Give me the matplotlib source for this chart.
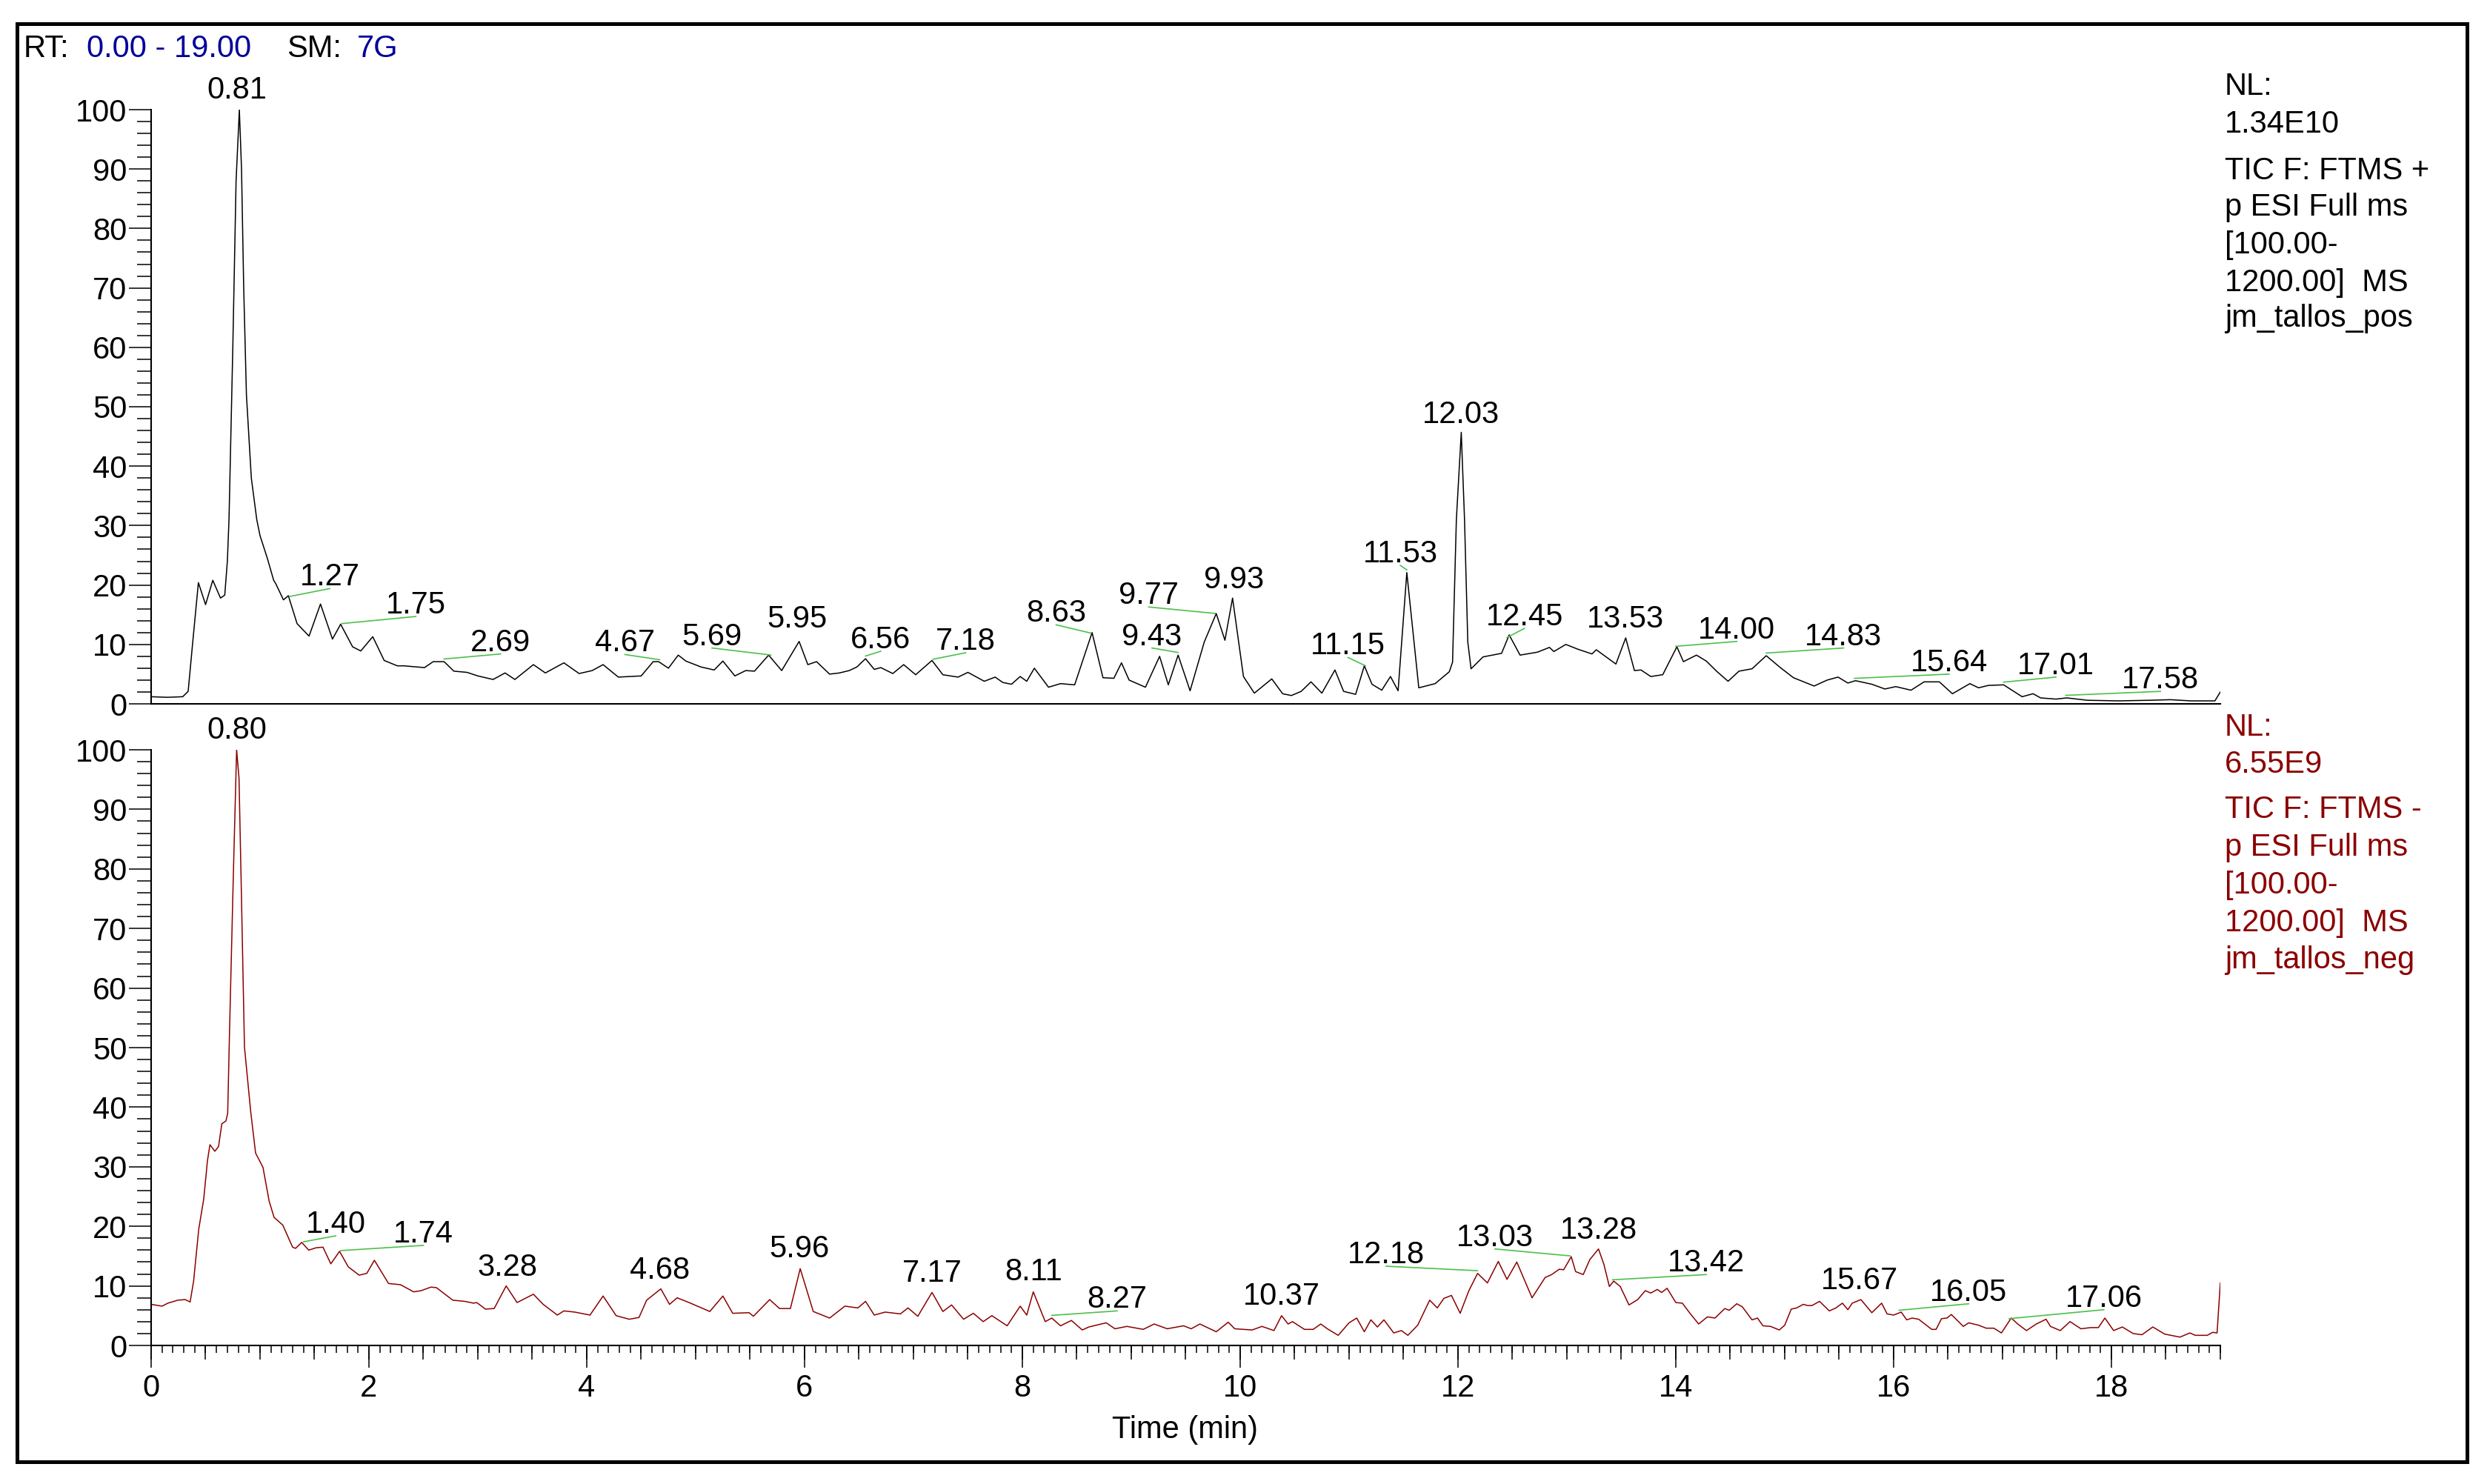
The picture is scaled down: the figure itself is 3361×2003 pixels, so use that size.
import matplotlib.pyplot as plt
import numpy as np
from matplotlib.patches import Rectangle

plt.rcParams['font.family'] = ['Liberation Sans', 'DejaVu Sans']

W, H = 3362, 2003

# --------------------------
# Data: TIC traces (relative abundance, %)
# --------------------------
pos_time = [0.00, 0.15, 0.29, 0.34, 0.38, 0.434, 0.50, 0.566, 0.637, 0.676, 0.70, 0.715, 0.75, 0.78,
            0.81, 0.83, 0.85, 0.875, 0.92, 0.97, 1.00, 1.067, 1.125, 1.145, 1.215, 1.26, 1.34, 1.45,
            1.555, 1.665, 1.74, 1.85, 1.925, 2.035, 2.14, 2.26, 2.32, 2.51, 2.59, 2.69, 2.78, 2.90,
            3.00, 3.14, 3.25, 3.34, 3.51, 3.62, 3.79, 3.93, 4.05, 4.15, 4.29, 4.50, 4.61, 4.66, 4.75,
            4.84, 4.91, 5.05, 5.17, 5.25, 5.36, 5.46, 5.54, 5.67, 5.79, 5.95, 6.03, 6.11, 6.23, 6.32,
            6.41, 6.48, 6.56, 6.64, 6.70, 6.81, 6.91, 7.02, 7.17, 7.27, 7.41, 7.50, 7.65, 7.75, 7.82,
            7.90, 7.98, 8.04, 8.11, 8.24, 8.35, 8.48, 8.64, 8.74, 8.84, 8.91, 8.98, 9.13, 9.26, 9.34,
            9.43, 9.54, 9.67, 9.78, 9.86, 9.93, 10.03, 10.13, 10.29, 10.39, 10.47, 10.56, 10.65, 10.75,
            10.87, 10.95, 11.06, 11.14, 11.21, 11.30, 11.38, 11.45, 11.53, 11.64, 11.79, 11.92, 11.95,
            11.985, 12.03, 12.06, 12.09, 12.12, 12.23, 12.40, 12.47, 12.57, 12.73, 12.84, 12.88, 12.99,
            13.10, 13.23, 13.27, 13.36, 13.45, 13.54, 13.62, 13.68, 13.77, 13.88, 14.01, 14.07, 14.19,
            14.28, 14.38, 14.48, 14.58, 14.70, 14.83, 14.96, 15.08, 15.27, 15.39, 15.49, 15.58, 15.65,
            15.80, 15.92, 16.02, 16.16, 16.28, 16.42, 16.54, 16.70, 16.78, 16.87, 17.01, 17.18, 17.28,
            17.35, 17.49, 17.59, 17.78, 18.06, 18.35, 18.54, 18.73, 18.95, 19.00]
pos_int = [1.2, 1.1, 1.2, 2.1, 10.0, 20.4, 16.7, 20.8, 17.8, 18.3, 24.0, 31.0, 60.0, 88.0,
           100.0, 90.0, 70.0, 52.0, 38.0, 31.0, 28.3, 24.5, 20.8, 20.2, 17.5, 18.2, 13.5, 11.4,
           16.8, 10.9, 13.4, 9.6, 8.9, 11.3, 7.3, 6.4, 6.4, 6.1, 7.1, 7.1, 5.5, 5.3,
           4.7, 4.1, 5.2, 4.1, 6.6, 5.2, 6.9, 5.1, 5.6, 6.6, 4.5, 4.7, 7.1, 7.1, 6.0,
           8.2, 7.2, 6.2, 5.7, 7.2, 4.7, 5.6, 5.5, 8.2, 5.6, 10.5, 6.6, 7.1, 5.0, 5.2,
           5.6, 6.2, 7.6, 5.8, 6.1, 5.1, 6.6, 4.9, 7.3, 4.9, 4.5, 5.3, 3.8, 4.5, 3.6,
           3.3, 4.6, 3.8, 6.0, 2.8, 3.4, 3.2, 12.0, 4.4, 4.3, 6.9, 4.0, 2.8, 8.0, 3.2,
           8.2, 2.2, 10.4, 15.2, 10.7, 17.8, 4.6, 1.8, 4.2, 1.7, 1.4, 2.1, 3.7, 1.8,
           5.7, 2.1, 1.6, 6.4, 3.3, 2.3, 4.6, 2.2, 22.1, 2.7, 3.4, 5.4, 7.0,
           31.0, 45.7, 31.0, 10.4, 5.9, 7.9, 8.5, 11.6, 8.2, 8.7, 9.5, 8.8, 10.0,
           9.2, 8.4, 9.1, 7.9, 6.7, 11.1, 5.6, 5.7, 4.6, 4.9, 9.6, 7.1, 8.2,
           7.2, 5.4, 3.8, 5.5, 5.9, 8.1, 6.1, 4.4, 3.0, 4.0, 4.5, 3.5, 3.9,
           3.3, 2.5, 2.9, 2.3, 3.7, 3.7, 1.7, 3.4, 2.7, 3.1, 3.2, 1.2, 1.7,
           1.0, 0.8, 1.0, 0.6, 0.5, 0.6, 0.7, 0.5, 0.5, 2.0]

neg_time = [0.00, 0.10, 0.154, 0.245, 0.313, 0.358, 0.39, 0.437, 0.483, 0.517, 0.54, 0.585, 0.619,
            0.649, 0.687, 0.703, 0.72, 0.755, 0.785, 0.807, 0.826, 0.857, 0.914, 0.959, 1.027, 1.084,
            1.129, 1.209, 1.299, 1.326, 1.383, 1.447, 1.515, 1.578, 1.65, 1.73, 1.81, 1.91, 1.98, 2.05,
            2.18, 2.29, 2.41, 2.48, 2.57, 2.62, 2.77, 2.88, 2.96, 2.99, 3.07, 3.15, 3.26, 3.36, 3.51,
            3.60, 3.73, 3.79, 3.89, 4.03, 4.15, 4.27, 4.39, 4.48, 4.55, 4.68, 4.76, 4.83, 4.94, 5.13,
            5.25, 5.34, 5.49, 5.53, 5.68, 5.77, 5.87, 5.96, 6.08, 6.23, 6.37, 6.49, 6.56, 6.64, 6.74,
            6.88, 6.95, 7.04, 7.17, 7.27, 7.35, 7.46, 7.55, 7.64, 7.72, 7.86, 7.98, 8.04, 8.10, 8.21,
            8.27, 8.35, 8.45, 8.55, 8.61, 8.77, 8.85, 8.96, 9.11, 9.21, 9.33, 9.48, 9.55, 9.63, 9.78,
            9.89, 9.95, 10.11, 10.20, 10.31, 10.38, 10.44, 10.48, 10.59, 10.67, 10.74, 10.80, 10.90,
            11.00, 11.07, 11.14, 11.20, 11.26, 11.32, 11.41, 11.48, 11.54, 11.63, 11.74, 11.81, 11.87,
            11.94, 12.02, 12.10, 12.18, 12.27, 12.37, 12.45, 12.54, 12.68, 12.80, 12.86, 12.93, 12.97,
            13.04, 13.08, 13.15, 13.21, 13.29, 13.34, 13.39, 13.43, 13.49, 13.57, 13.65, 13.72, 13.77,
            13.83, 13.87, 13.92, 14.00, 14.06, 14.13, 14.21, 14.29, 14.36, 14.45, 14.49, 14.56, 14.61,
            14.70, 14.75, 14.80, 14.87, 14.95, 15.00, 15.06, 15.11, 15.17, 15.21, 15.25, 15.32, 15.41,
            15.47, 15.53, 15.58, 15.62, 15.70, 15.80, 15.89, 15.94, 16.00, 16.07, 16.12, 16.17, 16.23,
            16.35, 16.39, 16.44, 16.49, 16.53, 16.64, 16.69, 16.78, 16.85, 16.92, 16.99, 17.08, 17.14,
            17.22, 17.31, 17.40, 17.44, 17.53, 17.62, 17.72, 17.81, 17.88, 17.94, 18.02, 18.10, 18.20,
            18.28, 18.38, 18.49, 18.63, 18.72, 18.77, 18.88, 18.93, 18.97, 19.00]
neg_int = [6.9, 6.6, 7.1, 7.6, 7.7, 7.3, 10.8, 19.5, 24.6, 31.0, 33.7, 32.6, 33.4,
           37.2, 37.7, 39.0, 52.8, 79.1, 100.0, 95.2, 78.4, 50.1, 39.3, 32.3, 29.9, 24.2,
           21.5, 20.2, 16.5, 16.3, 17.3, 16.0, 16.4, 16.5, 13.7, 15.8, 13.2, 11.8, 12.1, 14.3,
           10.4, 10.2, 9.0, 9.2, 9.8, 9.7, 7.6, 7.4, 7.1, 7.2, 6.1, 6.2, 10.0, 7.2, 8.6,
           6.9, 5.1, 5.8, 5.6, 5.1, 8.3, 5.0, 4.4, 4.7, 7.6, 9.5, 6.9, 8.0, 7.2, 5.7,
           8.3, 5.4, 5.5, 4.9, 7.7, 6.2, 6.2, 12.9, 5.7, 4.6, 6.6, 6.3, 7.4, 5.1, 5.6,
           5.3, 6.3, 4.9, 8.9, 5.7, 6.8, 4.4, 5.4, 4.0, 5.0, 3.3, 6.6, 5.1, 9.0, 4.0,
           4.6, 3.3, 4.2, 2.6, 3.1, 3.8, 2.8, 3.2, 2.7, 3.6, 2.8, 3.3, 2.8, 3.6, 2.3,
           3.9, 2.8, 2.6, 3.2, 2.5, 5.0, 3.6, 4.0, 2.7, 2.7, 3.6, 2.8, 1.7,
           3.8, 4.6, 2.3, 4.3, 3.1, 4.3, 2.1, 2.5, 1.7, 3.4, 7.6, 6.3, 7.9,
           8.4, 5.4, 9.2, 12.1, 10.5, 14.1, 11.1, 14.0, 8.0, 11.4, 11.9, 12.8, 12.7,
           14.9, 12.4, 11.9, 14.4, 16.2, 13.6, 9.9, 10.8, 9.9, 6.8, 7.7, 9.2, 8.8,
           9.4, 8.9, 9.6, 7.2, 7.1, 5.4, 3.6, 4.8, 4.6, 6.2, 5.9, 7.0, 6.5,
           4.3, 4.6, 3.3, 3.2, 2.6, 3.4, 6.1, 6.3, 6.9, 6.7, 6.7, 7.4, 5.8,
           6.3, 7.1, 6.0, 7.1, 7.7, 5.5, 7.1, 5.3, 5.1, 5.6, 4.3, 4.6, 4.4,
           2.7, 2.7, 4.5, 4.6, 5.2, 3.2, 3.8, 3.4, 2.9, 2.9, 2.1, 4.6, 3.6,
           2.5, 3.6, 4.4, 3.2, 2.5, 4.0, 2.8, 3.0, 3.0, 4.6, 2.5, 3.1, 2.0,
           1.8, 3.1, 1.9, 1.4, 2.1, 1.7, 1.7, 2.2, 2.1, 10.5]

# peak labels (retention times)
pos_peaks = ["0.81", "1.27", "1.75", "2.69", "4.67", "5.69", "5.95", "6.56", "7.18", "8.63",
             "9.43", "9.77", "9.93", "11.15", "11.53", "12.03", "12.45", "13.53", "14.00",
             "14.83", "15.64", "17.01", "17.58"]
neg_peaks = ["0.80", "1.40", "1.74", "3.28", "4.68", "5.96", "7.17", "8.11", "8.27", "10.37",
             "12.18", "13.03", "13.28", "13.42", "15.67", "16.05", "17.06"]

# label anchor (centre x in min, baseline in %) -- layout
pos_label_xy = [(0.79, 101.9), (1.64, 19.9), (2.43, 15.2), (3.21, 8.9), (4.35, 8.8), (5.15, 9.9),
                (5.93, 12.8), (6.70, 9.35), (7.48, 9.1), (8.31, 13.8), (9.19, 9.9), (9.16, 16.8),
                (9.94, 19.5), (10.99, 8.3), (11.47, 23.8), (12.03, 47.3), (12.61, 13.2),
                (13.54, 12.9), (14.56, 11.0), (15.54, 9.9), (16.51, 5.5), (17.49, 5.0), (18.45, 2.6)]
neg_label_xy = [(0.79, 101.9), (1.695, 18.9), (2.50, 17.3), (3.27, 11.7), (4.67, 11.2),
                (5.95, 14.8), (7.17, 10.7), (8.10, 10.9), (8.87, 6.3), (10.38, 6.8), (11.34, 13.8),
                (12.34, 16.7), (13.29, 17.9), (14.28, 12.4), (15.69, 9.4), (16.69, 7.5), (17.93, 6.5)]

pos_info = ["NL:", "1.34E10", "TIC F: FTMS +", "p ESI Full ms", "[100.00-", "1200.00]  MS", "jm_tallos_pos"]
neg_info = ["NL:", "6.55E9", "TIC F: FTMS -", "p ESI Full ms", "[100.00-", "1200.00]  MS", "jm_tallos_neg"]

FS = 30
GREEN = "#4CC04C"
RED = "#8B0000"
BLUE = "#00009A"


def draw_panel(ax, t, y, color, peaks, label_xy, xaxis):
    ax.plot(t, y, color=color, linewidth=1.1)
    ax.set_xlim(0, 19)
    ax.set_ylim(0, 100)
    for s in ["top", "right"]:
        ax.spines[s].set_visible(False)
    for s in ["left", "bottom"]:
        ax.spines[s].set_linewidth(1.5)
    ax.set_yticks(np.arange(0, 101, 10))
    ax.set_yticks(np.arange(0, 101, 2), minor=True)
    ax.tick_params(axis="y", which="major", length=21.5, width=1.1, pad=2, labelsize=FS)
    ax.tick_params(axis="y", which="minor", length=13.5, width=1.1)
    if xaxis:
        ax.set_xticks(np.arange(0, 19, 2))
        ax.set_xticks(np.arange(0, 19.01, 0.1), minor=True)
        ax.tick_params(axis="x", which="major", length=21.5, width=1.1, pad=6, labelsize=FS)
        ax.tick_params(axis="x", which="minor", length=7, width=1.1)
        sec = ax.secondary_xaxis("bottom")
        sec.set_xticks(np.arange(0, 19.01, 0.5))
        sec.tick_params(axis="x", length=14, width=1.1, labelbottom=False)
        sec.spines["bottom"].set_visible(False)
    else:
        ax.tick_params(axis="x", which="both", bottom=False, labelbottom=False)

    for lab, (lx, ly) in zip(peaks, label_xy):
        pt = float(lab)
        apex = np.interp(pt, t, y)
        if abs(lx - pt) > 0.05:
            ax.plot([pt, lx], [apex + 0.45, ly - 0.5], color=GREEN, linewidth=1.2)
        ax.text(lx, ly, lab, fontsize=FS, ha="center", va="baseline", color="black")


fig = plt.figure(figsize=(W / 100, H / 100), dpi=100)

ax1 = fig.add_axes([204 / W, 1 - 950 / H, (2997 - 204) / W, (950 - 148) / H])
ax2 = fig.add_axes([204 / W, 1 - 1816 / H, (2997 - 204) / W, (1816 - 1012) / H])

draw_panel(ax1, pos_time, pos_int, "black", pos_peaks, pos_label_xy, False)
draw_panel(ax2, neg_time, neg_int, RED, neg_peaks, neg_label_xy, True)

fig.text(1600 / W, 1 - 1930 / H, "Time (min)", fontsize=FS, ha="center", va="center")

# header
for txt, x, c in [("RT:", 32, "black"), ("0.00 - 19.00", 117, BLUE), ("SM:", 387, "black"), ("7G", 482, BLUE)]:
    fig.text(x / W, 1 - 77 / H, txt, fontsize=FS, ha="left", va="baseline", color=c)

# info blocks on the right
for txt, yb in zip(pos_info, [128, 179, 242, 291, 342, 393, 441]):
    fig.text(3003 / W, 1 - yb / H, txt, fontsize=FS, ha="left", va="baseline", color="black")
for txt, yb in zip(neg_info, [993, 1043, 1104, 1155, 1206, 1257, 1307]):
    fig.text(3003 / W, 1 - yb / H, txt, fontsize=FS, ha="left", va="baseline", color=RED)

# outer frame
fig.patches.append(Rectangle((23 / W, 1 - 1973 / H), (3330 - 23) / W, (1973 - 32) / H,
                             transform=fig.transFigure, fill=False, edgecolor="black", linewidth=3.6))

fig.savefig("out.png", dpi=100)
plt.close()
